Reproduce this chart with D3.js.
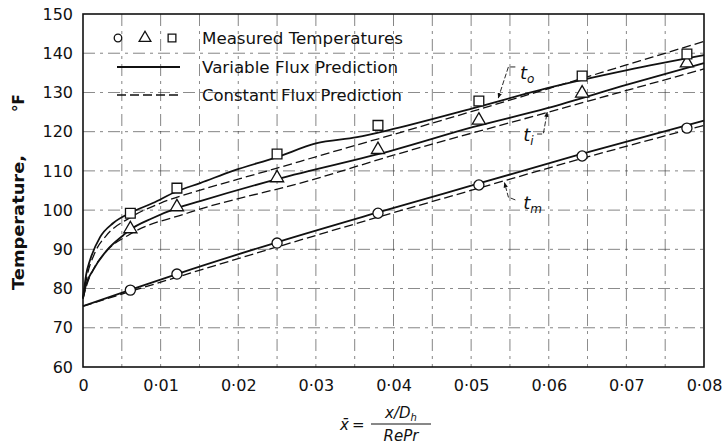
<!DOCTYPE html>
<html>
<head>
<meta charset="utf-8">
<style>
  body { margin: 0; background: #fff; }
  text { font-family: "DejaVu Sans", sans-serif; fill: #111; }
  .grid { stroke: #333; stroke-width: 0.8; stroke-dasharray: 12,5,3,5; opacity: 0.75; }
  .solid { fill: none; stroke: #111; stroke-width: 1.8px; }
  .dashed { fill: none; stroke: #111; stroke-width: 1.3px; stroke-dasharray: 9,4; }
  .mark { fill: #fff; stroke: #111; stroke-width: 1.3px; }
  .leader { fill: none; stroke: #111; stroke-width: 0.9px; stroke-dasharray: 5,2; }
</style>
</head>
<body>
<svg id="chart" width="724" height="447"></svg>
<script src="https://d3js.org/d3.v7.min.js"></script>
<script>
// measured temperatures (x = x/Dh / RePr)
var xMeasured = [0.0061, 0.0121, 0.025, 0.038, 0.051, 0.0643, 0.0778];
var tOutMeasured = [99.2, 105.6, 114.3, 121.6, 127.8, 134.2, 139.8];   // squares
var tInMeasured = [95.2, 100.8, 108.2, 115.4, 122.9, 129.8, 137.5];    // triangles
var tMeanMeasured = [79.6, 83.7, 91.6, 99.2, 106.4, 113.8, 120.9];     // circles

// variable flux prediction (solid)
var varOutX = [0, 0.0004, 0.0009, 0.0022, 0.0039, 0.006, 0.009, 0.0121, 0.0151, 0.0193, 0.025, 0.030, 0.0353, 0.040, 0.0503, 0.0598, 0.0701, 0.080];
var varOutT = [77.5, 83.5, 87.2, 93.1, 96.7, 99.2, 101.8, 104.8, 106.9, 110.0, 113.5, 117.0, 118.6, 120.7, 126.0, 131.1, 135.7, 139.5];
var varInX = [0, 0.0004, 0.0013, 0.0031, 0.0052, 0.006, 0.009, 0.0121, 0.0151, 0.025, 0.040, 0.0503, 0.0598, 0.0701, 0.080];
var varInT = [77.5, 81.0, 84.7, 89.8, 93.6, 94.9, 98.0, 100.5, 102.3, 107.9, 115.3, 121.2, 126.0, 132.0, 137.5];
var varMeanX = [0, 0.006, 0.0121, 0.025, 0.038, 0.051, 0.064, 0.080];
var varMeanT = [75.5, 79.6, 83.7, 91.8, 99.4, 106.8, 114.2, 122.8];

// constant flux prediction (dashed)
var conOutX = [0, 0.0005, 0.0015, 0.003, 0.006, 0.010, 0.0151, 0.020, 0.025, 0.030, 0.040, 0.050, 0.060, 0.070, 0.080];
var conOutT = [77.5, 83.0, 89.0, 93.5, 98.0, 101.8, 105.1, 107.9, 110.7, 113.6, 119.3, 125.1, 131.0, 137.0, 143.0];
var conInX = [0, 0.0005, 0.0015, 0.003, 0.006, 0.0134, 0.0293, 0.040, 0.060, 0.080];
var conInT = [77.5, 81.0, 85.5, 89.5, 93.8, 99.2, 107.6, 114.0, 125.0, 136.0];
var conMeanX = [0, 0.006, 0.0121, 0.025, 0.038, 0.051, 0.064, 0.080];
var conMeanT = [75.5, 79.2, 82.9, 90.6, 98.2, 105.6, 113.0, 121.6];

var xTicks = [0, 0.01, 0.02, 0.03, 0.04, 0.05, 0.06, 0.07, 0.08];
var xTickLabels = ["0", "0·01", "0·02", "0·03", "0·04", "0·05", "0·06", "0·07", "0·08"];
var yTicks = [60, 70, 80, 90, 100, 110, 120, 130, 140, 150];
var xGrid = [0.005, 0.01, 0.015, 0.02, 0.025, 0.03, 0.035, 0.04, 0.045, 0.05, 0.055, 0.06, 0.065, 0.07, 0.075];
var yGrid = [70, 80, 90, 100, 110, 120, 130, 140];

var legendLabels = ["Measured Temperatures", "Variable Flux Prediction", "Constant Flux Prediction"];

// curve labels: label point, elbow and arrow tip in data units
var annotations = [
  { name: "o", label: [0.0563, 135.0], path: [[0.0548, 136.5], [0.0535, 128.6]], start: [0.0557, 136.5] },
  { name: "i", label: [0.0567, 119.1], path: [[0.0593, 119.4], [0.0598, 125.0]], start: [0.0585, 119.4] },
  { name: "m", label: [0.0567, 101.8], path: [[0.0548, 103.3], [0.0543, 107.0]], start: [0.0557, 102.6] }
];

var svg = d3.select("#chart");
var plotLeft = 83, plotRight = 704, plotTop = 14, plotBottom = 367;

var x = d3.scaleLinear().domain([0, 0.08]).range([plotLeft, plotRight]);
var y = d3.scaleLinear().domain([60, 150]).range([plotBottom, plotTop]);

// grid
svg.append("g").selectAll("line").data(xGrid).enter().append("line")
  .attr("class", "grid")
  .attr("x1", d => x(d)).attr("x2", d => x(d))
  .attr("y1", plotTop).attr("y2", plotBottom);
svg.append("g").selectAll("line").data(yGrid).enter().append("line")
  .attr("class", "grid")
  .attr("x1", plotLeft).attr("x2", plotRight)
  .attr("y1", d => y(d)).attr("y2", d => y(d));

// axes (labels only, frame drawn below)
var xAxis = svg.append("g").attr("transform", "translate(0," + plotBottom + ")")
  .call(d3.axisBottom(x).tickValues(xTicks).tickSize(0).tickPadding(13)
    .tickFormat((d, i) => xTickLabels[i]));
var yAxis = svg.append("g").attr("transform", "translate(" + plotLeft + ",0)")
  .call(d3.axisLeft(y).tickValues(yTicks).tickSize(0).tickPadding(10));
[xAxis, yAxis].forEach(a => {
  a.select(".domain").remove();
  a.selectAll("text").attr("font-size", 16).attr("font-family", "DejaVu Sans").attr("fill", "#111");
});

// frame
svg.append("rect")
  .attr("x", plotLeft).attr("y", plotTop)
  .attr("width", plotRight - plotLeft).attr("height", plotBottom - plotTop)
  .attr("fill", "none").attr("stroke", "#111").attr("stroke-width", 1.6);

// curves
var line = d3.line().x(d => x(d[0])).y(d => y(d[1])).curve(d3.curveMonotoneX);
function series(xs, ts) { return xs.map((v, i) => [v, ts[i]]); }

[[conOutX, conOutT], [conInX, conInT], [conMeanX, conMeanT]].forEach(s => {
  svg.append("path").attr("class", "dashed").attr("d", line(series(s[0], s[1])));
});
[[varOutX, varOutT], [varInX, varInT], [varMeanX, varMeanT]].forEach(s => {
  svg.append("path").attr("class", "solid").attr("d", line(series(s[0], s[1])));
});

// measured points
function drawMarks(ts, type, size) {
  svg.append("g").selectAll("path").data(series(xMeasured, ts)).enter().append("path")
    .attr("class", "mark")
    .attr("transform", d => "translate(" + x(d[0]) + "," + y(d[1]) + ")")
    .attr("d", d3.symbol().type(type).size(size));
}
drawMarks(tMeanMeasured, d3.symbolCircle, 80);
drawMarks(tInMeasured, d3.symbolTriangle, 75);
drawMarks(tOutMeasured, d3.symbolSquare, 95);

// annotations
svg.append("defs").append("marker")
  .attr("id", "tip").attr("viewBox", "0 0 10 10")
  .attr("refX", 9).attr("refY", 5)
  .attr("markerWidth", 6).attr("markerHeight", 6)
  .attr("orient", "auto")
  .append("path").attr("d", "M0,1 L10,5 L0,9 z").attr("fill", "#111");

var plain = d3.line().x(d => x(d[0])).y(d => y(d[1]));
annotations.forEach(a => {
  svg.append("path").attr("class", "leader")
    .attr("marker-end", "url(#tip)")
    .attr("d", plain([a.start].concat(a.path)));
  var t = svg.append("text")
    .attr("x", x(a.label[0])).attr("y", y(a.label[1]) + 6)
    .attr("font-size", 18).attr("font-style", "italic");
  t.append("tspan").text("t");
  t.append("tspan").attr("font-size", 12).attr("dy", 4).text(a.name);
});

// legend
var lg = svg.append("g");
var rows = [38, 67, 95];
var symX = [118, 145, 172];
[d3.symbolCircle, d3.symbolTriangle, d3.symbolSquare].forEach((s, i) => {
  lg.append("path").attr("class", "mark")
    .attr("transform", "translate(" + symX[i] + "," + rows[0] + ")")
    .attr("d", d3.symbol().type(s).size(i === 0 ? 45 : 60));
});
lg.append("line").attr("class", "solid").attr("x1", 117).attr("x2", 180).attr("y1", rows[1]).attr("y2", rows[1]);
lg.append("line").attr("class", "dashed").attr("x1", 117).attr("x2", 180).attr("y1", rows[2]).attr("y2", rows[2]);
var textWidths = [201, 196, 200];
legendLabels.forEach((l, i) => {
  lg.append("text").attr("x", 202).attr("y", rows[i] + 6)
    .attr("font-size", 16)
    .attr("textLength", textWidths[i]).attr("lengthAdjust", "spacingAndGlyphs")
    .text(l);
});

// y title
svg.append("text")
  .attr("transform", "translate(24,290) rotate(-90)")
  .attr("font-size", 15).attr("font-weight", "bold")
  .attr("textLength", 135).attr("lengthAdjust", "spacingAndGlyphs")
  .text("Temperature,");
svg.append("text")
  .attr("transform", "translate(24,112) rotate(-90)")
  .attr("font-size", 15).attr("font-weight", "bold")
  .text("°F");

// x title: x̄ = (x/Dh)/(RePr)
var xt = svg.append("g");
xt.append("text").attr("x", 340).attr("y", 430).attr("font-size", 15).attr("font-style", "italic").text("x̄");
xt.append("text").attr("x", 352).attr("y", 430).attr("font-size", 15).text("=");
xt.append("line").attr("x1", 371).attr("x2", 431).attr("y1", 424).attr("y2", 424)
  .attr("stroke", "#111").attr("stroke-width", 1);
var num = xt.append("text").attr("x", 401).attr("y", 418).attr("font-size", 15)
  .attr("text-anchor", "middle").attr("font-style", "italic");
num.append("tspan").text("x/D");
num.append("tspan").attr("font-size", 10).attr("dy", 3).text("h");
xt.append("text").attr("x", 401).attr("y", 441).attr("font-size", 15)
  .attr("text-anchor", "middle").attr("font-style", "italic").text("RePr");
</script>
</body>
</html>
